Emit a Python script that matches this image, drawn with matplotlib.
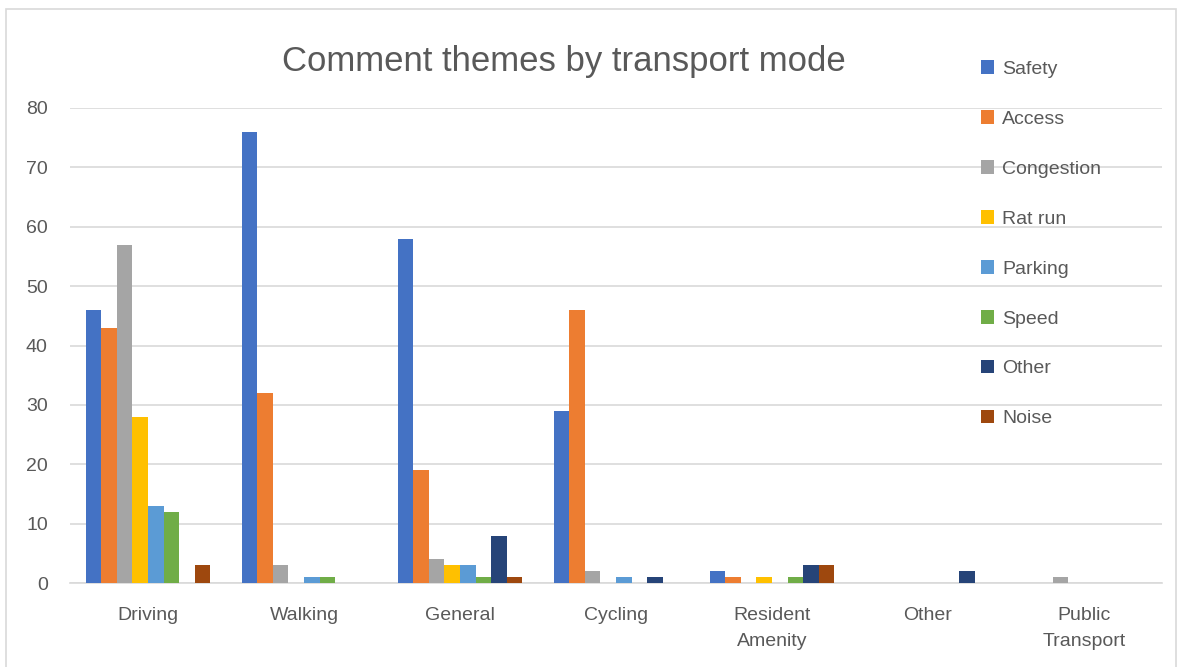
import numpy as np
import matplotlib
matplotlib.use("Agg")
import matplotlib.pyplot as plt
from matplotlib.patches import Rectangle

plt.rcParams['font.family'] = ['Liberation Sans', 'DejaVu Sans']

# chart data
modes = ["Driving", "Walking", "General", "Cycling", "Resident\nAmenity", "Other", "Public\nTransport"]
themes = ["Safety", "Access", "Congestion", "Rat run", "Parking", "Speed", "Other", "Noise"]
safety = [46, 76, 58, 29, 2, 0, 0]
access = [43, 32, 19, 46, 1, 0, 0]
congestion = [57, 3, 4, 2, 0, 0, 1]
rat_run = [28, 0, 3, 0, 1, 0, 0]
parking = [13, 1, 3, 1, 0, 0, 0]
speed = [12, 1, 1, 0, 1, 0, 0]
other = [0, 0, 8, 1, 3, 2, 0]
noise = [3, 0, 1, 0, 3, 0, 0]
yticks = [0, 10, 20, 30, 40, 50, 60, 70, 80]

series = [safety, access, congestion, rat_run, parking, speed, other, noise]
colors = ["#4472C4", "#ED7D31", "#A5A5A5", "#FFC000", "#5B9BD5", "#70AD47", "#264478", "#9E480E"]

W, H = 1186, 667
fig = plt.figure(figsize=(W / 100, H / 100), dpi=100)
ax = fig.add_axes([70 / W, (H - 583) / H, 1092 / W, 475 / H])

x = np.arange(len(modes))
bw = 0.1
for i, (vals, c, name) in enumerate(zip(series, colors, themes)):
    ax.bar(x + (i - 3.5) * bw, vals, bw, color=c, label=name, zorder=3)

ax.set_xlim(-0.5, len(modes) - 0.5)
ax.set_ylim(0, 80)
ax.set_yticks(yticks)
ax.set_xticks(x)
ax.set_xticklabels(modes, fontsize=14, color="#595959", linespacing=1.75)
ax.tick_params(axis='y', labelsize=14, labelcolor="#595959", length=0, pad=16)
ax.tick_params(axis='x', length=0, pad=17)
ax.grid(axis='y', color="#d9d9d9", linewidth=1.2, zorder=0)
for s in ["top", "right", "left"]:
    ax.spines[s].set_visible(False)
ax.spines["bottom"].set_color("#d9d9d9")
ax.spines["bottom"].set_linewidth(1.2)

fig.text(564 / W, 1 - 61 / H, "Comment themes by transport mode", fontsize=25,
         color="#595959", ha="center", va="center")

leg = fig.legend(loc="upper left", bbox_to_anchor=(963 / W, 1 - 43 / H), frameon=False,
                 fontsize=14, labelspacing=1.66, handlelength=0.7, handleheight=0.7,
                 handletextpad=0.4)
for t in leg.get_texts():
    t.set_color("#595959")

fig.patches.append(Rectangle((6 / W, -0.05), 1170 / W, 1.05 - 9 / H, transform=fig.transFigure,
                             fill=False, edgecolor="#d9d9d9", linewidth=1.2))

fig.savefig("out.png", dpi=100, facecolor="white")
